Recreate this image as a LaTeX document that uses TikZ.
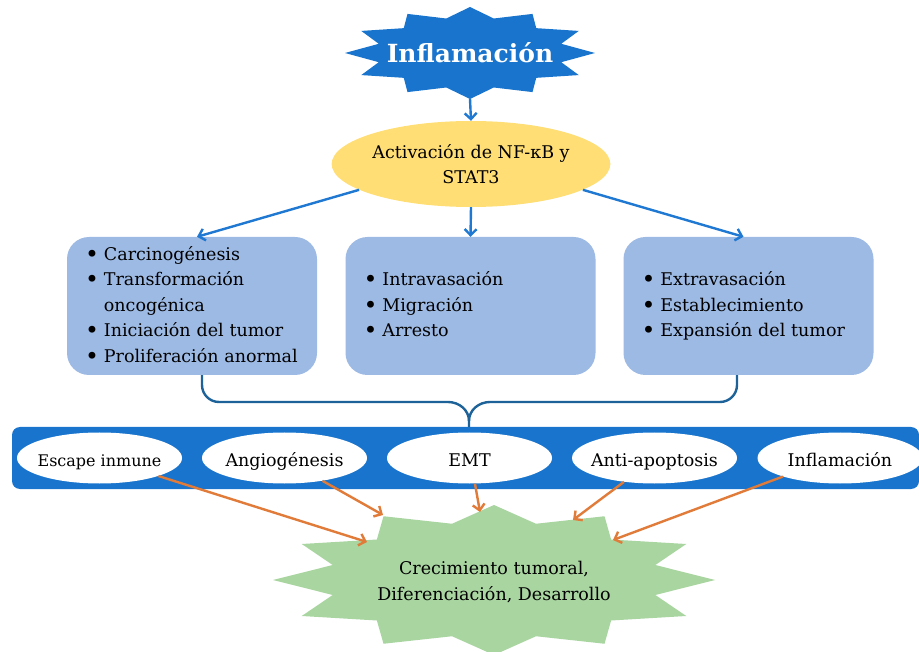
\documentclass[tikz,border=0pt]{standalone}
\usepackage{fontspec}
\setmainfont{DejaVu Serif}
\usetikzlibrary{shapes.geometric, arrows.meta}
\definecolor{sealblue}{HTML}{1874CD}
\definecolor{nfyellow}{HTML}{FFDE75}
\definecolor{boxblue}{HTML}{9DBAE4}
\definecolor{bracecol}{HTML}{1D6399}
\definecolor{growgreen}{HTML}{A9D5A1}
\definecolor{arrorange}{HTML}{E07B39}
\definecolor{arrblue}{HTML}{1F78D1}
% 12-point seal, unit size, scaled per use
\newcommand{\seal}[4]{\fill[#1, shift={#2}, xscale=#3, yscale=#4]
  (0,-1) -- (.19,-.75) -- (.5,-.85) -- (.53,-.54) -- (.87,-.48) -- (.73,-.2) --
  (1,0) -- (.73,.2) -- (.87,.48) -- (.53,.54) -- (.5,.85) -- (.19,.75) --
  (0,1) -- (-.19,.75) -- (-.5,.85) -- (-.53,.54) -- (-.87,.48) -- (-.73,.2) --
  (-1,0) -- (-.73,-.2) -- (-.87,-.48) -- (-.53,-.54) -- (-.5,-.85) -- (-.19,-.75) -- cycle;}
\newcommand{\itm}{\raisebox{-2.2pt}{\scalebox{1.35}{\textbullet}}}

\begin{document}
\begin{tikzpicture}[x=1pt, y=-1pt,
    txt/.style={font=\fontsize{17.5}{25.5}\selectfont},
    infobox/.style={txt, fill=boxblue, rounded corners=22, minimum height=138,
      text width=214, inner xsep=18, align=left},
    effect/.style={txt, ellipse, fill=white, minimum width=165, minimum height=51,
      inner xsep=-25pt, inner ysep=0, text height=20pt, text depth=4pt},
    barrow/.style={arrblue, line width=2.4pt, -{Straight Barb[length=6pt,width=12pt]}},
    oarrow/.style={arrorange, line width=2.4pt, -{Straight Barb[length=6pt,width=12pt]}},
    brace/.style={bracecol, line width=2.4pt}]
  \useasboundingbox (0,0) rectangle (919,652);

  % top seal
  \seal{sealblue}{(470,53)}{125}{46}
  \node[text=white, font=\bfseries\fontsize{25}{28}\selectfont] (infl) at (470,53) {Inflamación};
  \coordinate (inflbot) at (470,99);

  \node[txt, ellipse, fill=nfyellow, minimum width=252, minimum height=86,
    inner sep=0, align=center] (nfkb) at (471,164) {Activación de NF-κB y\\STAT3};

  % three stages
  \node[infobox] (box1) at (192,306) {%
    \begin{tabular}{@{}l@{\hspace{5pt}}l@{}}
    \itm & Carcinogénesis\\
    \itm & Transformación\\
         & oncogénica\\
    \itm & Iniciación del tumor\\
    \itm & Proliferación anormal
    \end{tabular}};
  \node[infobox] (box2) at (470.5,306) {%
    \begin{tabular}{@{}l@{\hspace{5pt}}l@{}}
    \itm & Intravasación\\
    \itm & Migración\\
    \itm & Arresto
    \end{tabular}};
  \node[infobox] (box3) at (748.5,306) {%
    \begin{tabular}{@{}l@{\hspace{5pt}}l@{}}
    \itm & Extravasación\\
    \itm & Establecimiento\\
    \itm & Expansión del tumor
    \end{tabular}};

  \draw[barrow] (inflbot) -- (nfkb.north);
  \draw[barrow] (nfkb.193) -- ([xshift=5]box1.north);
  \draw[barrow] (nfkb.south) -- (box2.north);
  \draw[barrow] (nfkb.-13) -- ([xshift=-5]box3.north);

  % band of effects
  \node[fill=sealblue, rounded corners=8, minimum width=907, minimum height=62] (band) at (465.5,458) {};
  \node[effect, font=\fontsize{16}{18}\selectfont] (esc) at (99.5,458) {Escape inmune};
  \node[effect] (ang) at (284.5,458) {Angiogénesis};
  \node[effect] (emt) at (469.5,458) {EMT};
  \node[effect] (apo) at (654.5,458) {Anti-apoptosis};
  \node[effect] (inf2) at (840,458) {Inflamación};

  \draw[brace] ([xshift=10]box1.south) -- (202,385) to[out=-90,in=180] (219,402)
    -- (448,402) to[out=0,in=90] (469,421) -- ([xshift=3.5]band.north);
  \draw[brace] ([xshift=-11.5]box3.south) -- (737,385) to[out=-90,in=0] (720,402)
    -- (490,402) to[out=180,in=90] (469,421);

  % outcome seal
  \seal{growgreen}{(494,580)}{221}{75}
  \node[txt, align=center] (res) at (494,582) {Crecimiento tumoral,\\Diferenciación, Desarrollo};
  \coordinate (g1) at (367,542);
  \coordinate (g2) at (383,515);
  \coordinate (g3) at (480,512);
  \coordinate (g4) at (573,520);
  \coordinate (g5) at (613,540);

  \draw[oarrow] (esc.-17) -- (g1);
  \draw[oarrow] (ang.-31) -- (g2);
  \draw[oarrow] (emt.-78) -- (g3);
  \draw[oarrow] (apo.-142) -- (g4);
  \draw[oarrow] (inf2.-162) -- (g5);
\end{tikzpicture}
\end{document}
